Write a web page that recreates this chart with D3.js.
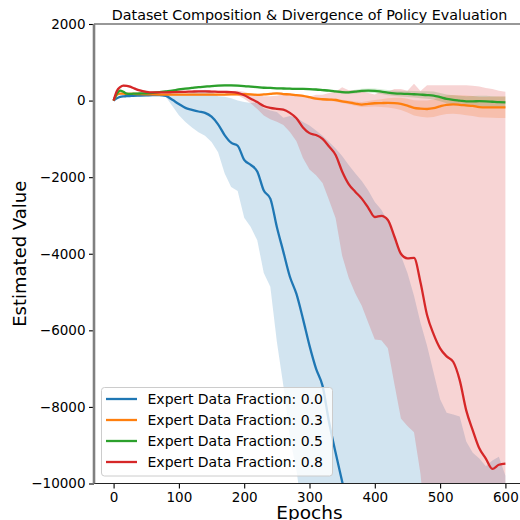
<!DOCTYPE html>
<html>
<head>
<meta charset="utf-8">
<script src="https://cdnjs.cloudflare.com/ajax/libs/d3/7.8.5/d3.min.js"></script>
<style>
    body { margin: 0; background: #ffffff; }
    text { font-family: "DejaVu Sans", sans-serif; }
</style>
</head>
<body>
<div id="chart"></div>
<script>

// epochs shared by every series
var epochs = [0, 5, 10, 15, 20, 25, 30, 40, 50, 60, 70, 80, 90, 100, 110, 120, 130, 140, 150, 160,
    170, 180, 190, 200, 210, 220, 230, 240, 250, 260, 270, 280, 290, 300, 310, 320, 330, 340, 350, 360,
    370, 380, 390, 400, 410, 420, 430, 440, 450, 460, 470, 480, 490, 500, 510, 520, 530, 540, 550, 560,
    570, 580, 590, 600];

// expert data fraction 0.0
var meanFrac00 = [0, 60, 96, 110, 115, 120, 125, 130, 135, 140, 140, 120, 20, -90, -190, -240, -285, -320, -420, -620,
    -900, -1100, -1180, -1550, -1680, -1850, -2350, -2560, -3300, -3950, -4600, -5050, -5700, -6400, -7000, -7450, -8400, -9200, -9950, -10700,
    -11400, -12000, -12600, -13200, -13800, -14400, -15000, -15600, -16100, -16600, -17100, -17600, -18100, -18600, -19000, -19400, -19800, -20200, -20600, -21000,
    -21400, -21800, -22200, -22600];
var stdFrac00 = [5, 15, 20, 20, 20, 20, 20, 20, 20, 20, 20, 25, 160, 290, 370, 460, 540, 600, 660, 730,
    1000, 1160, 1180, 1510, 1620, 1800, 2150, 2300, 3000, 3500, 4200, 4610, 5140, 5750, 6220, 6530, 7320, 7950, 8500, 9020,
    9500, 9900, 10250, 10550, 10950, 11250, 11450, 11550, 11600, 11500, 11300, 11200, 11000, 10800, 10850, 11200, 11550, 11300, 11400, 11650,
    11850, 12400, 12900, 12800];

// expert data fraction 0.3
var meanFrac03 = [0, 150, 180, 180, 175, 175, 175, 170, 165, 160, 158, 155, 155, 155, 155, 155, 155, 155, 155, 155,
    158, 160, 165, 165, 160, 150, 160, 175, 190, 170, 160, 140, 125, 90, 50, 35, 25, 15, -20, -45,
    -80, -105, -85, -70, -65, -60, -65, -85, -130, -190, -210, -220, -200, -150, -110, -100, -110, -125, -140, -170,
    -175, -175, -175, -175];
var stdFrac03 = [5, 20, 30, 30, 30, 30, 30, 30, 30, 30, 30, 30, 30, 30, 30, 30, 30, 30, 30, 30,
    30, 30, 30, 30, 30, 30, 30, 30, 30, 30, 30, 30, 30, 30, 32, 35, 38, 40, 45, 50,
    55, 65, 75, 85, 100, 120, 140, 160, 180, 200, 215, 225, 230, 235, 240, 245, 250, 255, 260, 265,
    270, 275, 280, 280];

// expert data fraction 0.5
var meanFrac05 = [0, 180, 260, 230, 180, 175, 180, 185, 190, 200, 220, 240, 260, 290, 310, 330, 350, 365, 380, 390,
    395, 395, 390, 380, 365, 350, 335, 330, 320, 315, 310, 305, 305, 300, 290, 275, 260, 240, 220, 215,
    235, 255, 260, 255, 235, 210, 190, 180, 175, 165, 155, 145, 130, 90, 45, 20, 0, -20, -20, -15,
    -20, -30, -40, -45];
var stdFrac05 = [5, 20, 30, 30, 30, 30, 30, 30, 30, 30, 30, 30, 30, 30, 30, 30, 30, 30, 30, 30,
    30, 30, 30, 30, 30, 30, 30, 30, 30, 30, 30, 30, 30, 30, 30, 32, 34, 36, 40, 44,
    48, 52, 56, 60, 64, 68, 72, 76, 80, 86, 92, 98, 104, 110, 116, 122, 128, 134, 140, 142,
    144, 146, 148, 150];

// expert data fraction 0.8
var meanFrac08 = [0, 250, 350, 390, 385, 365, 330, 265, 230, 215, 215, 215, 220, 225, 230, 235, 240, 240, 235, 230,
    225, 220, 200, 140, 50, -40, -140, -190, -215, -235, -320, -460, -700, -850, -900, -1000, -1200, -1420, -1850, -2180,
    -2380, -2560, -2800, -3040, -3010, -3120, -3550, -4000, -4120, -4110, -4750, -5600, -6100, -6470, -6680, -6820, -7300, -8090, -8610, -9080,
    -9350, -9620, -9510, -9480];
var stdFrac08 = [5, 20, 30, 30, 30, 30, 30, 30, 30, 30, 30, 30, 30, 30, 30, 30, 30, 30, 30, 30,
    30, 30, 60, 90, 120, 180, 250, 300, 340, 400, 500, 600, 800, 950, 1050, 1150, 1400, 1650, 2200, 2450,
    2650, 2800, 3000, 3200, 3250, 3350, 3850, 4300, 4380, 4550, 5000, 6000, 6500, 6870, 7080, 7220, 7700, 8490, 9000, 9450,
    9680, 9920, 9770, 9710];

var fractionLabels = ["Expert Data Fraction: 0.0", "Expert Data Fraction: 0.3",
    "Expert Data Fraction: 0.5", "Expert Data Fraction: 0.8"];
var colors = ["#1f77b4", "#ff7f0e", "#2ca02c", "#d62728"];

var xTicks = [0, 100, 200, 300, 400, 500, 600];
var yTicks = [-10000, -8000, -6000, -4000, -2000, 0, 2000];

var series = [
    {label: fractionLabels[0], color: colors[0], mean: meanFrac00, std: stdFrac00},
    {label: fractionLabels[1], color: colors[1], mean: meanFrac03, std: stdFrac03},
    {label: fractionLabels[2], color: colors[2], mean: meanFrac05, std: stdFrac05},
    {label: fractionLabels[3], color: colors[3], mean: meanFrac08, std: stdFrac08}
];

// plot area (right side of the axes runs past the picture edge)
var plot = {left: 94, right: 525, top: 24, bottom: 483.5};

var svg = d3.select("#chart").append("svg")
    .attr("width", 520)
    .attr("height", 520);

var x = d3.scaleLinear()
    .domain([-30, 630])
    .range([plot.left, plot.right]);

var y = d3.scaleLinear()
    .domain([-10000, 2000])
    .range([plot.bottom, plot.top]);

svg.append("defs").append("clipPath")
    .attr("id", "plot_clip")
    .append("rect")
    .attr("x", plot.left)
    .attr("y", plot.top)
    .attr("width", plot.right - plot.left)
    .attr("height", plot.bottom - plot.top);

var plotArea = svg.append("g").attr("clip-path", "url(#plot_clip)");

// std bands first
series.forEach(function(s) {
    var band = d3.area()
        .x(function(d, i) { return x(epochs[i]); })
        .y0(function(d, i) { return y(s.mean[i] - s.std[i]); })
        .y1(function(d, i) { return y(s.mean[i] + s.std[i]); });

    plotArea.append("path")
        .datum(s.mean)
        .attr("d", band)
        .style("fill", s.color)
        .style("fill-opacity", 0.2)
        .style("stroke", "none");
});

// mean lines on top
series.forEach(function(s) {
    var line = d3.line()
        .x(function(d, i) { return x(epochs[i]); })
        .y(function(d) { return y(d); })
        .curve(d3.curveMonotoneX);

    plotArea.append("path")
        .datum(s.mean)
        .attr("d", line)
        .style("fill", "none")
        .style("stroke", s.color)
        .style("stroke-width", 2.3)
        .style("stroke-linejoin", "round");
});

// axes
var xAxis = d3.axisBottom(x)
    .tickValues(xTicks)
    .tickSize(5)
    .tickPadding(4)
    .tickFormat(d3.format("d"));

var yAxis = d3.axisLeft(y)
    .tickValues(yTicks)
    .tickSize(5)
    .tickPadding(3.5)
    .tickFormat(d3.format("d"));

var gx = svg.append("g")
    .attr("class", "x_axis")
    .attr("transform", "translate(0," + plot.bottom + ")")
    .call(xAxis);

var gy = svg.append("g")
    .attr("class", "y_axis")
    .attr("transform", "translate(" + plot.left + ",0)")
    .call(yAxis);

[gx, gy].forEach(function(g) {
    g.select(".domain").remove();
    g.selectAll(".tick line").style("stroke", "#000").style("stroke-width", 1.1);
    g.selectAll(".tick text")
        .style("font-family", "DejaVu Sans")
        .style("font-size", "13.5px")
        .style("fill", "#000");
});

// spines
svg.append("line")
    .attr("x1", plot.left).attr("x2", plot.right)
    .attr("y1", plot.top).attr("y2", plot.top)
    .style("stroke", "#333").style("stroke-width", 1.1);

svg.append("line")
    .attr("x1", plot.left).attr("x2", plot.right)
    .attr("y1", plot.bottom).attr("y2", plot.bottom)
    .style("stroke", "#222").style("stroke-width", 1.1);

svg.append("line")
    .attr("x1", plot.left).attr("x2", plot.left)
    .attr("y1", plot.top).attr("y2", plot.bottom)
    .style("stroke", "#808080").style("stroke-width", 2.6);

// title and axis labels
svg.append("text")
    .attr("x", (plot.left + plot.right) / 2)
    .attr("y", 19.5)
    .style("text-anchor", "middle")
    .style("font-size", "14.3px")
    .text("Dataset Composition & Divergence of Policy Evaluation");

svg.append("text")
    .attr("transform", "translate(26," + ((plot.top + plot.bottom) / 2) + ") rotate(-90)")
    .style("text-anchor", "middle")
    .style("font-size", "18px")
    .text("Estimated Value");

// x label sits low, partly cut by the bottom edge as in the original
svg.append("text")
    .attr("x", (plot.left + plot.right) / 2)
    .attr("y", 519)
    .style("text-anchor", "middle")
    .style("font-size", "18.5px")
    .text("Epochs");

// legend
var legend = svg.append("g").attr("class", "legend");

legend.append("rect")
    .attr("x", 101.5)
    .attr("y", 387.5)
    .attr("width", 231)
    .attr("height", 88.5)
    .attr("rx", 3)
    .style("fill", "#fff")
    .style("fill-opacity", 0.8)
    .style("stroke", "#cccccc")
    .style("stroke-width", 1);

series.forEach(function(s, i) {
    var ly = 399 + i * 21;
    legend.append("line")
        .attr("x1", 106).attr("x2", 137)
        .attr("y1", ly).attr("y2", ly)
        .style("stroke", s.color)
        .style("stroke-width", 2.3);
    legend.append("text")
        .attr("x", 147.5)
        .attr("y", ly + 5)
        .style("font-size", "14px")
        .text(s.label);
});

</script>
